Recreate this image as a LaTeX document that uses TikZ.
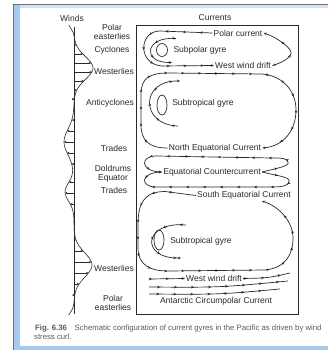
\documentclass[tikz,border=0pt]{standalone}
\usepackage{fontspec}
\setmainfont{Liberation Sans}
\usetikzlibrary{arrows.meta,decorations.markings}
\definecolor{ink}{HTML}{2A2A2A}
\definecolor{captxt}{HTML}{5A5A5A}
\definecolor{frameblue}{HTML}{A8CAF1}
\definecolor{framegray}{HTML}{6E7278}
\begin{document}
\begin{tikzpicture}[x=1pt,y=-1pt,
  declare function={wd(\t)=19*exp(-min(((\t-68)/16)^2,15)) - 10*exp(-min(((\t-142)/18)^2,15)) - 9*exp(-min(((\t-192)/13)^2,15)) + 18*exp(-min(((\t-265)/17)^2,15)) - 6*exp(-min(((\t-22)/8)^2,15)) - 6*exp(-min(((\t-318)/8)^2,15));},
  lab/.style={font=\fontsize{8.5}{9}\selectfont, text=ink, inner sep=0.8pt, align=center},
  onl/.style={lab, inner sep=1.2pt},
  captext/.style={font=\fontsize{7.75}{8}\selectfont, text=captxt, inner sep=0pt},
  cur/.style={draw=ink, line width=0.7pt, postaction={decorate},
    decoration={markings, mark=between positions 0.08 and 0.95 step 17pt with {\arrow{Stealth[length=3pt,width=2.6pt]}}}},
  endtip/.style={-{Stealth[length=3pt,width=2.6pt]}},
  wnd/.style={draw=ink, line width=0.5pt, -{Stealth[length=2.4pt,width=2.2pt]}},
  gyre/.style={draw=ink, line width=0.7pt}
]
\path[use as bounding box] (0,0) rectangle (328,350);
\fill[white] (0,0) rectangle (328,350);
% frame
\fill[frameblue] (13,5) rectangle (20,350);
\fill[frameblue] (13,345.5) rectangle (328,350);
\fill[frameblue!55] (20,5.2) rectangle (328,8.2);
\draw[framegray, line width=1.2pt] (12.6,4.6) -- (328,4.6);
\draw[framegray, line width=0.6pt] (13,4.6) -- (13,350);

% headings
\node[lab] (winds) at (72,18) {Winds};
\node[lab] (currents) at (215,18) {Currents};

% wind profile
\draw[ink, line width=0.6pt] (74,27) -- (74,314);
\draw[ink, line width=0.6pt] plot[domain=25:315, samples=150, variable=\t] ({74+wd(\t)}, \t);
\foreach \yy in {45,54,63,72,81,90,99,120,131,142,153,164,182,193,204,240,251,262,273,284,295}{
  \draw[wnd] (74,\yy) -- ({74+wd(\yy)},\yy);
}

% wind labels
\node[lab] (pe1) at (112,32) {Polar\\easterlies};
\node[lab] (cyc) at (112,50) {Cyclones};
\node[lab] (we1) at (114,71) {Westerlies};
\node[lab] (anti) at (110,103) {Anticyclones};
\node[lab] (tr1) at (114,148) {Trades};
\node[lab] (dold) at (113,173.5) {Doldrums\\Equator};
\node[lab] (tr2) at (114,190) {Trades};
\node[lab] (we2) at (114,268) {Westerlies};
\node[lab] (pe2) at (113,303) {Polar\\easterlies};

% currents box
\draw[ink, line width=0.7pt] (136,25.5) rectangle (298,314.5);

% current labels
\node[onl] (pc) at (238,33) {Polar current};
\node[onl] (spg) at (200,50) {Subpolar gyre};
\node[onl] (wwd) at (243,65.5) {West wind drift};
\node[onl] (stg1) at (203,103) {Subtropical gyre};
\node[onl] (nec) at (215,148) {North Equatorial Current};
\node[onl] (ecc) at (212,172) {Equatorial Countercurrent};
\node[onl] (sec) at (244,195.5) {South Equatorial Current};
\node[onl] (stg2) at (201,241) {Subtropical gyre};
\node[onl] (wwd2) at (214,278.5) {West wind drift};
\node[onl] (acc) at (216,301.5) {Antarctic Circumpolar Current};

% subpolar gyre
\path[cur, endtip] (pc.west) -- (160,31) .. controls (139,31) and (137,64) .. (162,66) -- (wwd.west);
\path[cur, endtip] (wwd.east) .. controls (282,63) and (292,57) .. (291,52) .. controls (290,47) and (276,37) .. (pc.east);
\path[cur, endtip] (176,38.5) .. controls (145,36) and (141,63) .. (172,62.5);
\draw[gyre] (162,50) ellipse [x radius=5.5, y radius=6.5];

% north subtropical gyre
\path[cur, endtip] (nec.west) .. controls (148,148) and (141,140) .. (141,124) -- (141,94) .. controls (141,78) and (150,73) .. (168,73) -- (262,74) .. controls (284,76) and (296,92) .. (296,110) .. controls (296,130) and (284,146) .. (nec.east);
\path[cur, endtip] (178,126) .. controls (140,125) and (140,80) .. (180,81);
\draw[gyre] (162,105) ellipse [x radius=5, y radius=10];

% equatorial loops
\path[cur, endtip] (ecc.east) .. controls (278,168) and (290,166) .. (288,162) .. controls (287,158) and (281,158) .. (272,158) -- (156,156) .. controls (140,156) and (140,171) .. (ecc.west);
\path[cur, endtip] (ecc.east) .. controls (278,176) and (291,177) .. (289,182) .. controls (288,186) and (281,187) .. (272,187) -- (156,187) .. controls (140,187) and (140,173) .. (ecc.west);

% south subtropical gyre
\path[cur, endtip] (sec.west) -- (165,191.5) .. controls (143,191.5) and (138,205) .. (138,225) -- (138,248) .. controls (138,265) and (150,271) .. (168,271) -- (265,270) .. controls (285,268) and (293,255) .. (293,238) .. controls (293,222) and (280,207) .. (262,201);
\path[cur, endtip] (186,225) .. controls (143,221) and (140,259) .. (181,258);
\draw[gyre] (159,240) ellipse [x radius=5, y radius=10];

% west wind drift / ACC
\path[cur, endtip] (149,279) -- (wwd2.west);
\path[cur] (wwd2.east) .. controls (268,278) .. (290,273);
\path[cur] (149,287) .. controls (220,287.5) .. (288,281);
\path[cur] (149,294) .. controls (220,294.5) .. (280,289);

% caption
\node[captext, anchor=base west] (cap1) at (35,330) {\textbf{Fig. 6.36}\hspace{1em}Schematic configuration of current gyres in the Pacific as driven by wind};
\node[captext, anchor=base west] (cap2) at (34,339) {stress curl.};
\end{tikzpicture}
\end{document}
